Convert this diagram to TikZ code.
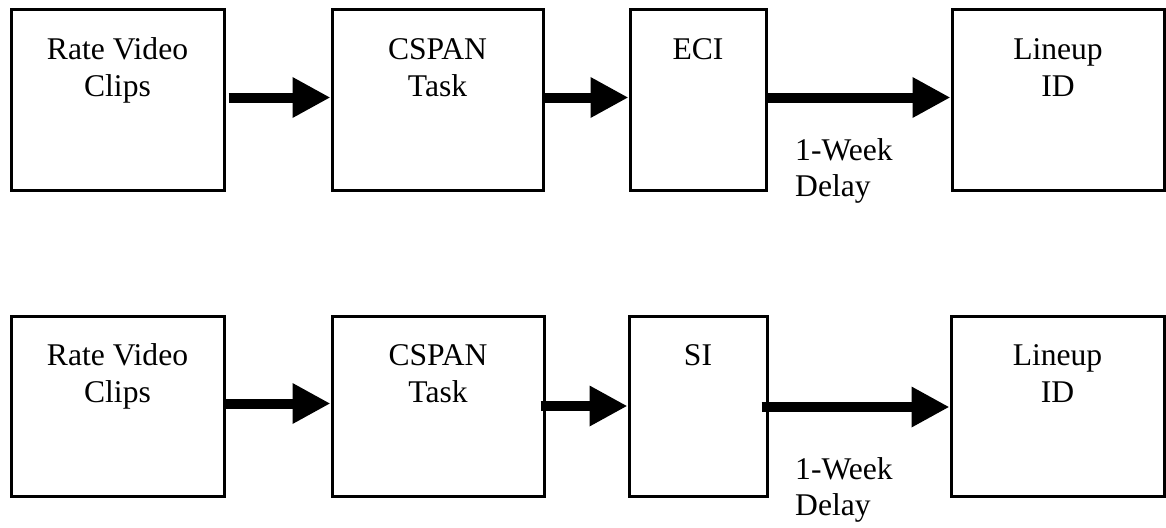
\documentclass[tikz,border=0pt]{standalone}
\usepackage{fontspec}
\setmainfont{Liberation Serif}
\usetikzlibrary{arrows.meta}
\begin{document}
\begin{tikzpicture}[x=1pt,y=-1pt,
  stagebox/.style={draw, line width=3pt, rectangle, inner sep=0pt,
    anchor=north west, minimum height=180pt},
  stagetext/.style={anchor=base, align=center, inner sep=0pt,
    font=\fontsize{31.6}{36.5}\selectfont},
  notetext/.style={anchor=base west, align=left, inner sep=0pt,
    font=\fontsize{31.6}{36}\selectfont},
  flow/.style={line width=10pt, line cap=butt,
    -{Triangle[length=38pt,width=38pt]}}]
\useasboundingbox (0,0) rectangle (1166,527);

% upper sequence
\node[stagebox, minimum width=213pt] (a1) at (9.5,8.5) {};
\node[stagebox, minimum width=211pt] (a2) at (330.5,8.5) {};
\node[stagebox, minimum width=136pt] (a3) at (628.5,8.5) {};
\node[stagebox, minimum width=212pt] (a4) at (950.5,8.5) {};

% multi-line texts sit on the baseline of their last line
\node[stagetext] (a1t) at ([yshift=-87.5pt]a1.north) {Rate Video\\Clips};
\node[stagetext] (a2t) at ([yshift=-87.5pt]a2.north) {CSPAN\\Task};
\node[stagetext] (a3t) at ([yshift=-51pt]a3.north) {ECI};
\node[stagetext] (a4t) at ([yshift=-87.5pt]a4.north) {Lineup\\ID};
\node[notetext] (a34) at (795,196) {1-Week\\Delay};

\draw[flow] ([xshift=3pt,yshift=2.5pt]a1.east) -- ([yshift=2.5pt]a2.west);
\draw[flow] ([yshift=2.5pt]a2.east) -- ([yshift=2.5pt]a3.west);
\draw[flow] ([yshift=2.5pt]a3.east) -- ([yshift=2.5pt]a4.west);

% lower sequence
\node[stagebox, minimum width=213pt] (b1) at (9.5,314.5) {};
\node[stagebox, minimum width=212pt] (b2) at (330.5,314.5) {};
\node[stagebox, minimum width=138pt] (b3) at (627.5,314.5) {};
\node[stagebox, minimum width=213pt] (b4) at (949.5,314.5) {};

\node[stagetext] (b1t) at ([yshift=-87.5pt]b1.north) {Rate Video\\Clips};
\node[stagetext] (b2t) at ([yshift=-87.5pt]b2.north) {CSPAN\\Task};
\node[stagetext] (b3t) at ([yshift=-51pt]b3.north) {SI};
\node[stagetext] (b4t) at ([yshift=-87.5pt]b4.north) {Lineup\\ID};
\node[notetext] (b34) at (795,515) {1-Week\\Delay};

\draw[flow] ([yshift=2.5pt]b1.east) -- ([yshift=2.5pt]b2.west);
\draw[flow] ([xshift=-5pt,yshift=0pt]b2.east) -- ([yshift=0pt]b3.west);
\draw[flow] ([xshift=-7pt,yshift=-1pt]b3.east) -- ([yshift=-1pt]b4.west);
\end{tikzpicture}
\end{document}
